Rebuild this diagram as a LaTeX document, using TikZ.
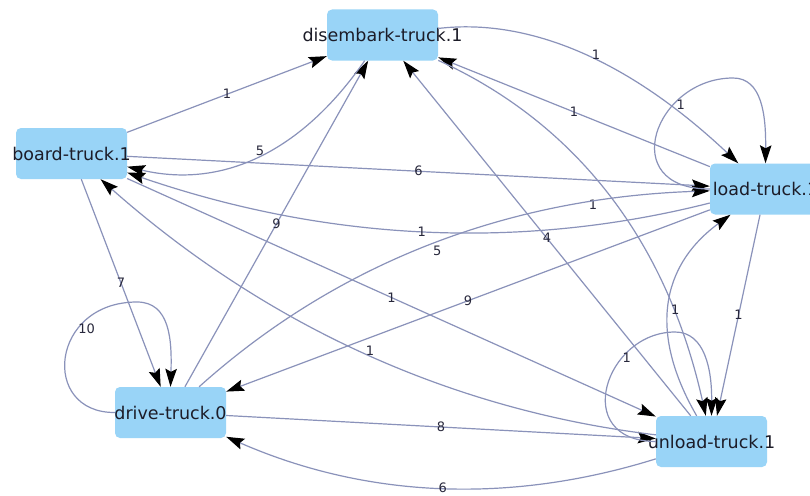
\documentclass[tikz,border=0pt]{standalone}
\usepackage{fontspec}
\setmainfont{DejaVu Sans}
\usetikzlibrary{arrows.meta}
\definecolor{nodeblue}{RGB}{153,212,247}
\definecolor{edgecol}{RGB}{138,146,186}
\definecolor{txtcol}{RGB}{28,28,40}
\definecolor{lblcol}{RGB}{40,40,60}
\begin{document}
\begin{tikzpicture}[x=1pt,y=-1pt,
  box/.style={rectangle, rounded corners=5pt, fill=nodeblue, draw=none,
    minimum width=111pt, minimum height=51pt, inner sep=0pt, text=txtcol,
    font=\fontsize{17.5}{20}\selectfont},
  edge/.style={draw=edgecol, line width=1.2pt,
    -{Stealth[length=18pt,width=11.5pt,inset=3pt,color=black]}},
  lbl/.style={font=\fontsize{13}{15}\selectfont, text=lblcol, inner sep=0pt}]
\fill[white] (0,0) rectangle (810,495);
\useasboundingbox (0,0) rectangle (810,495);

% nodes
\node[box] (D) at (382.5,35) {\makebox[0pt]{disembark-truck.1}};
\node[box] (B) at (71.5,153.5) {\makebox[0pt]{board-truck.1}};
\node[box] (L) at (765.5,189) {\makebox[0pt]{load-truck.1}};
\node[box] (V) at (170.5,412.5) {\makebox[0pt]{drive-truck.0}};
\node[box] (U) at (711.5,441.5) {\makebox[0pt]{unload-truck.1}};

% straight edges
\draw[edge] (B) -- node[lbl] (lBD) {1} (D);
\draw[edge] (B) -- node[lbl] (lBL) {6} (L);
\draw[edge] (B) -- node[lbl] (lBV) {7} (V);
\draw[edge] (B) -- node[lbl] (lBU) {1} (U);
\draw[edge] (V) -- node[lbl] (lVD) {9} (D);
\draw[edge] (U) -- node[lbl] (lUD) {4} (D);
\draw[edge] (L) -- node[lbl] (lLD) {1} (D);
\draw[edge] (L) -- node[lbl] (lLV) {9} (V);
\draw[edge] (L) -- node[lbl] (lLU) {1} (U);
\draw[edge] (V) -- node[lbl] (lVU) {8} (U);

% curved edges
\draw[edge] (D) .. controls (300.3,153.5) and (221,188.9) ..
  node[lbl,pos=.5,xshift=3pt,yshift=6pt] (lDB) {5} (B);
\draw[edge] (L) .. controls (520,251) and (325.7,240.9) ..
  node[lbl,pos=.5] (lLB) {1} (B);
\draw[edge] (U) .. controls (450.7,410.3) and (265.4,325) ..
  node[lbl,pos=.5,xshift=7pt,yshift=2pt] (lUB) {1} (B);
\draw[edge] (D) .. controls (531.3,17.5) and (631.5,62.5) ..
  node[lbl,pos=.5,xshift=13pt,yshift=-1pt] (lDL) {1} (L);
\draw[edge] (D) .. controls (578,124.1) and (667.3,242.7) ..
  node[lbl,pos=.5,xshift=-17pt,yshift=-8pt] (lDU) {1} (U);
\draw[edge] (V) .. controls (337,263) and (507.3,197.6) ..
  node[lbl,pos=.5,xshift=7pt,yshift=-6pt] (lVL) {5} (L);
\draw[edge] (U) .. controls (508.3,504.9) and (365,497.6) ..
  node[lbl,pos=.5,xshift=5pt,yshift=0pt] (lUV) {6} (V);
\draw[edge] (U) .. controls (648.9,333.3) and (660.2,266.2) ..
  node[lbl,pos=.5,xshift=6pt,yshift=-6pt] (lUL) {1} (L);

% self loops
\draw[edge] (V.west) .. controls (40,413) and (50,302) ..
  node[lbl,pos=.7,xshift=7pt,yshift=-3pt] (lVV) {10} (137,302)
  .. controls (170,302) and (172,340) .. (V.north);
\draw[edge] (L.west) .. controls (615,189) and (655,78) ..
  node[lbl,pos=.7,xshift=5pt,yshift=-3pt] (lLL) {1} (733,78)
  .. controls (762,78) and (766,115) .. (L.north);
\draw[edge] (U.west) .. controls (570,441) and (605,332) ..
  node[lbl,pos=.7,xshift=3pt,yshift=-2pt] (lUU) {1} (675,332)
  .. controls (705,332) and (712,370) .. (U.north);
\end{tikzpicture}
\end{document}
